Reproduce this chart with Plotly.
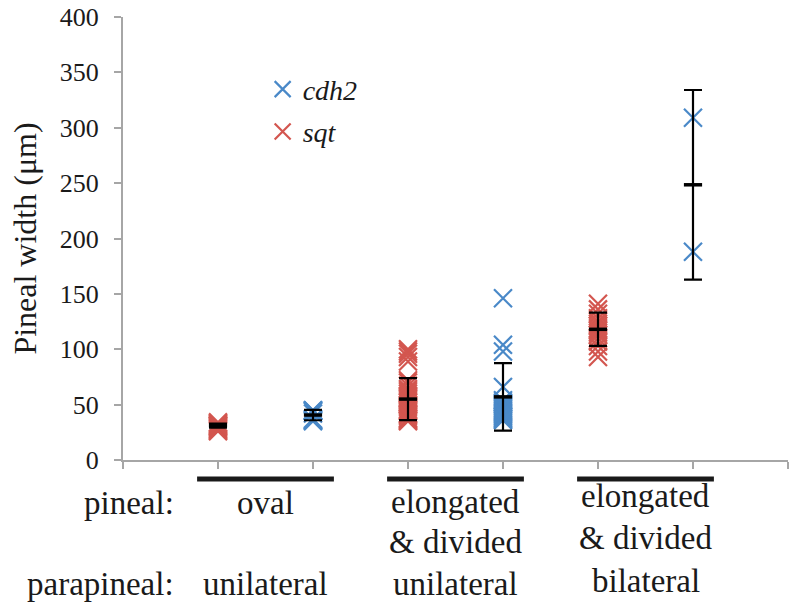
import plotly.graph_objects as go

# ---------------- data ----------------
group_pos = [1.5, 3.5, 5.5]                      # centre of each phenotype group on the x axis
pineal_labels = ["oval", "elongated<br>& divided", "elongated<br>& divided"]
parapineal_labels = ["unilateral", "unilateral", "bilateral"]

sqt_x = [1, 3, 5]
cdh2_x = [2, 4, 6]

sqt_oval = [26, 27, 28, 29, 30, 31, 31, 32, 33, 34]
sqt_elong_uni = [100, 98, 96, 93, 89, 72, 70, 67, 64, 62, 60, 58, 56, 54, 52,
                 50, 48, 46, 45, 44, 42, 41, 40, 38, 37, 36, 35]
sqt_elong_bi = [141, 136, 132, 128, 125, 123, 121, 119, 117, 115, 113, 110,
                107, 103, 98, 93]

cdh2_oval = [35, 36, 36, 37, 42, 44, 44, 45, 45]
cdh2_elong_uni = [146, 104, 98, 66, 54, 52, 50, 49, 48, 47, 46, 45, 44, 43, 42,
                  41, 40, 39, 38, 37, 36]
cdh2_elong_bi = [309, 188]

# group means and standard deviations (black bars)
sqt_mean = [31, 55, 118]
sqt_sd = [1.8, 19, 15]
cdh2_mean = [40.6, 57, 248.5]
cdh2_sd = [4.7, 30.5, 85.6]

y_ticks = [0, 50, 100, 150, 200, 250, 300, 350, 400]
x_ticks = [0, 1, 2, 3, 4, 5, 6, 7]

BLUE = "#4A89C8"
RED = "#D3564F"
FONT = "Liberation Serif, Tinos, Times New Roman, DejaVu Serif, serif"
TXT = "#1a1a1a"
LAB = 33


def expand(xs, groups):
    xx, yy = [], []
    for x, g in zip(xs, groups):
        xx += [x] * len(g)
        yy += list(g)
    return xx, yy


cx, cy = expand(cdh2_x, [cdh2_oval, cdh2_elong_uni, cdh2_elong_bi])
sx, sy = expand(sqt_x, [sqt_oval, sqt_elong_uni, sqt_elong_bi])

fig = go.Figure()
fig.add_trace(go.Scatter(
    x=cx, y=cy, mode="markers", name="<i>cdh2</i>",
    marker=dict(symbol="x-thin", size=18, line=dict(color=BLUE, width=2.2), color=BLUE),
    legendgroup="a"))
fig.add_trace(go.Scatter(
    x=sx, y=sy, mode="markers", name="<i>sqt</i>",
    marker=dict(symbol="x-thin", size=18, line=dict(color=RED, width=2.2), color=RED),
    legendgroup="b"))

mx = sqt_x + cdh2_x
my = sqt_mean + cdh2_mean
msd = sqt_sd + cdh2_sd
fig.add_trace(go.Scatter(
    x=mx, y=my, mode="markers", showlegend=False,
    marker=dict(symbol="line-ew", size=13, line=dict(color="black", width=3.5), color="black"),
    error_y=dict(type="data", array=msd, visible=True, color="black", thickness=2.2, width=9)))

# group bars and category labels under the axis
half_w = 0.72
for gp, pl, ppl in zip(group_pos, pineal_labels, parapineal_labels):
    fig.add_shape(type="line", xref="x", yref="paper", x0=gp - half_w, x1=gp + half_w,
                  y0=-0.043, y1=-0.043, line=dict(color=TXT, width=5))
    lines = pl.split("<br>")
    lines.append(ppl)
    if len(lines) == 2:
        ys = [-0.097, -0.28]
    else:
        ys = [-0.095, -0.186, -0.281] if gp < 5 else [-0.082, -0.175, -0.274]
    for t, yy in zip(lines, ys):
        fig.add_annotation(x=gp, y=yy, xref="x", yref="paper", text=t, showarrow=False,
                           xanchor="center", yanchor="middle",
                           font=dict(family=FONT, size=LAB, color=TXT))

fig.add_annotation(x=0.08, y=-0.097, xref="paper", yref="paper", text="pineal:",
                   showarrow=False, xanchor="right", yanchor="middle",
                   font=dict(family=FONT, size=LAB, color=TXT))
fig.add_annotation(x=0.08, y=-0.28, xref="paper", yref="paper", text="parapineal:",
                   showarrow=False, xanchor="right", yanchor="middle",
                   font=dict(family=FONT, size=LAB, color=TXT))

fig.update_layout(
    width=800, height=607,
    margin=dict(l=123, r=12, t=17, b=147),
    paper_bgcolor="white", plot_bgcolor="white",
    font=dict(family=FONT, color=TXT),
    showlegend=True,
    legend=dict(x=0.21, y=0.893, xanchor="left", yanchor="top",
                bgcolor="rgba(0,0,0,0)", font=dict(family=FONT, size=28, color=TXT),
                tracegroupgap=3, traceorder="grouped"),
    xaxis=dict(range=[0, 7], tickvals=x_ticks, showticklabels=False, ticks="outside",
               ticklen=7, tickwidth=2, tickcolor="#A6A6A6", showline=True,
               linecolor="#A6A6A6", linewidth=2, showgrid=False, zeroline=False,
               fixedrange=True, automargin=False),
    yaxis=dict(range=[0, 400], tickvals=y_ticks, ticks="outside", ticklen=7,
               tickwidth=2, tickcolor="#A6A6A6", showline=True, linecolor="#A6A6A6",
               linewidth=2, showgrid=False, zeroline=False, automargin=False,
               tickfont=dict(family=FONT, size=26, color=TXT),
               ticklabelstandoff=10,
               title=dict(text="Pineal width (μm)", font=dict(family=FONT, size=32, color=TXT),
                          standoff=14)),
)

fig.write_html("out.html", config={"displayModeBar": False},
               post_script="document.body.style.margin='0px';")
